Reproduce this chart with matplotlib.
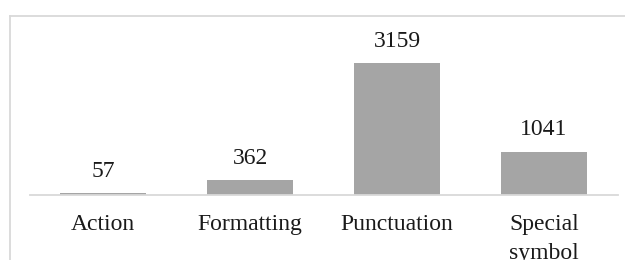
import matplotlib
matplotlib.use("Agg")
import matplotlib.pyplot as plt
from matplotlib.lines import Line2D

categories = ["Action", "Formatting", "Punctuation", "Special\nsymbol"]
values = [57, 362, 3159, 1041]

W, H = 625, 260
fig = plt.figure(figsize=(W / 100, H / 100), dpi=100)

# outer chart border (only top and left visible; clipped at right/bottom)
bx, by = 10 / W, (H - 15.5) / H
fig.add_artist(Line2D([bx, 1.05], [by, by], transform=fig.transFigure,
                      color="#d9d9d9", linewidth=1.3))
fig.add_artist(Line2D([bx, bx], [-0.05, by], transform=fig.transFigure,
                      color="#d9d9d9", linewidth=1.3))

base_y = 195
top_y = 20
left_px, right_px = 29.5, 617.5
ax = fig.add_axes([left_px / W, (H - base_y) / H, (right_px - left_px) / W,
                   (base_y - top_y) / H])
ax.set_facecolor("none")
x = list(range(len(categories)))
bars = ax.bar(x, values, width=0.59, color="#a5a5a5")
unit = 132 / 3159
ax.set_ylim(0, (base_y - top_y) / unit)
ax.set_xlim(-0.5, len(categories) - 0.5)

for b, v in zip(bars, values):
    ax.annotate(str(v), (b.get_x() + b.get_width() / 2, v), xytext=(0, 8),
                textcoords="offset points", ha="center", va="bottom",
                fontsize=17, family="Liberation Serif", color="#1a1a1a")

ax.set_xticks(x)
ax.set_xticklabels(categories, fontsize=17, family="Liberation Serif",
                   color="#1a1a1a", linespacing=1.5, va="top")
ax.tick_params(axis="x", length=0, pad=13.5)
ax.set_yticks([])
for s in ["top", "right", "left"]:
    ax.spines[s].set_visible(False)
ax.spines["bottom"].set_color("#d9d9d9")
ax.spines["bottom"].set_linewidth(1.3)

fig.savefig("out.png", dpi=100)
